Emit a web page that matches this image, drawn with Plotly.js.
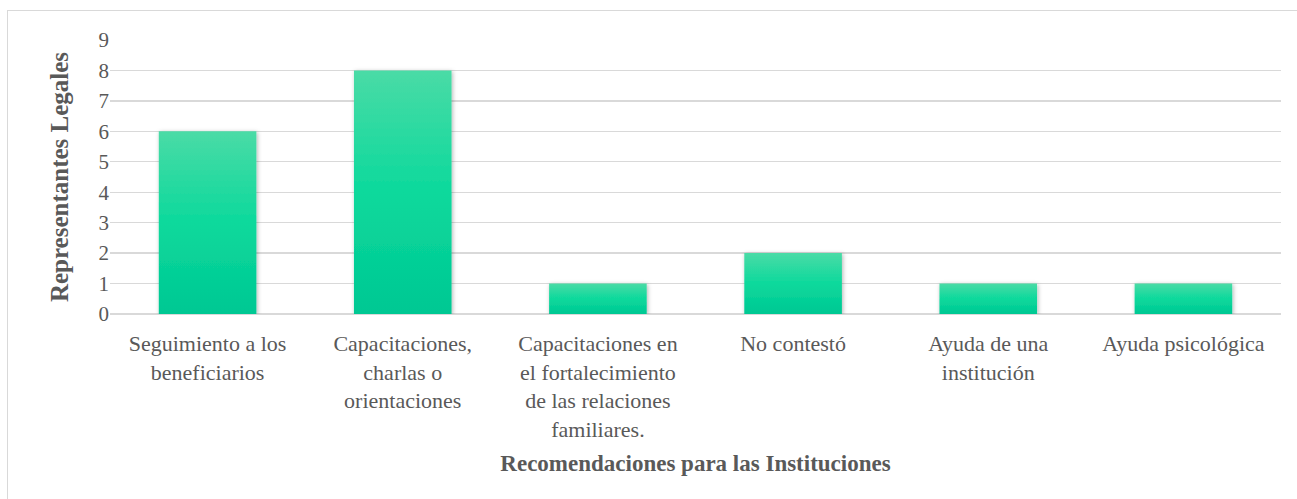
<!DOCTYPE html>
<html>
<head>
<meta charset="utf-8">
<script src="https://cdn.plot.ly/plotly-3.0.1.min.js"></script>
<style>
html,body{margin:0;padding:0;background:#fff;}
#chart{width:1297px;height:499px;position:absolute;left:0;top:0;}
#frame{position:absolute;left:7px;top:10px;width:1400px;height:600px;border:1.5px solid #d9d9d9;pointer-events:none;box-sizing:border-box;}
</style>
</head>
<body>
<div id="chart"></div>
<div id="frame"></div>
<script>
const categories = [
  "Seguimiento a los<br>beneficiarios",
  "Capacitaciones,<br>charlas o<br>orientaciones",
  "Capacitaciones en<br>el fortalecimiento<br>de las relaciones<br>familiares.",
  "No contestó",
  "Ayuda de una<br>institución",
  "Ayuda psicológica"
];
const values = [6, 8, 1, 2, 1, 1];
const yTicks = [0,1,2,3,4,5,6,7,8,9];
const xTitle = "Recomendaciones para las Instituciones";
const yTitle = "Representantes Legales";

const font = "'Liberation Serif','Times New Roman',serif";
const data = [{
  type: 'bar',
  x: categories,
  y: values,
  marker: {color: '#0cd89a', line: {width: 0}},
  hoverinfo: 'none'
}];
const layout = {
  width: 1297, height: 499,
  margin: {l: 110, r: 16, t: 40, b: 185},
  paper_bgcolor: 'rgba(0,0,0,0)',
  plot_bgcolor: '#fff',
  bargap: 0.5,
  showlegend: false,
  font: {family: font, color: '#595959', size: 18},
  xaxis: {
    showgrid: false, zeroline: false, showline: false,
    ticks: '', ticklabelstandoff: 14,
    tickfont: {family: font, size: 22, color: '#595959'},
    title: {text: '<b>' + xTitle + '</b>', font: {family: font, size: 23, color: '#595959'}, standoff: 14},
    automargin: false
  },
  yaxis: {
    range: [0, 9], tickvals: yTicks, ticktext: yTicks.map(String),
    showgrid: true, gridcolor: '#d9d9d9', gridwidth: 1.3,
    zeroline: true, zerolinecolor: '#d9d9d9', zerolinewidth: 1.3,
    showline: false, ticks: '',
    tickfont: {family: font, size: 21, color: '#595959'},
    title: {text: '<b>' + yTitle + '</b>', font: {family: font, size: 25, color: '#595959'}, standoff: 22},
    automargin: false
  }
};
Plotly.newPlot('chart', data, layout, {staticPlot: true, displayModeBar: false}).then(function(gd){
  const svg = gd.querySelector('.main-svg');
  const ns = 'http://www.w3.org/2000/svg';
  let defs = svg.querySelector('defs');
  if (!defs) { defs = document.createElementNS(ns, 'defs'); svg.insertBefore(defs, svg.firstChild); }
  const lg = document.createElementNS(ns, 'linearGradient');
  lg.setAttribute('id', 'barGrad');
  lg.setAttribute('x1', '0'); lg.setAttribute('y1', '0');
  lg.setAttribute('x2', '0'); lg.setAttribute('y2', '1');
  [['0%', '#4adba6'], ['50%', '#0cd99c'], ['100%', '#00c893']].forEach(function(s){
    const st = document.createElementNS(ns, 'stop');
    st.setAttribute('offset', s[0]); st.setAttribute('stop-color', s[1]);
    lg.appendChild(st);
  });
  defs.appendChild(lg);
  const f = document.createElementNS(ns, 'filter');
  f.setAttribute('id', 'barShadow');
  f.setAttribute('x', '-20%'); f.setAttribute('y', '-20%');
  f.setAttribute('width', '140%'); f.setAttribute('height', '140%');
  const ds = document.createElementNS(ns, 'feDropShadow');
  ds.setAttribute('dx', '1'); ds.setAttribute('dy', '1');
  ds.setAttribute('stdDeviation', '2');
  ds.setAttribute('flood-color', '#000'); ds.setAttribute('flood-opacity', '0.3');
  f.appendChild(ds);
  defs.appendChild(f);
  gd.querySelectorAll('.barlayer .point path').forEach(function(p){
    p.style.fill = 'url(#barGrad)';
    p.style.fillOpacity = '1';
    p.setAttribute('filter', 'url(#barShadow)');
  });
});
</script>
</body>
</html>
